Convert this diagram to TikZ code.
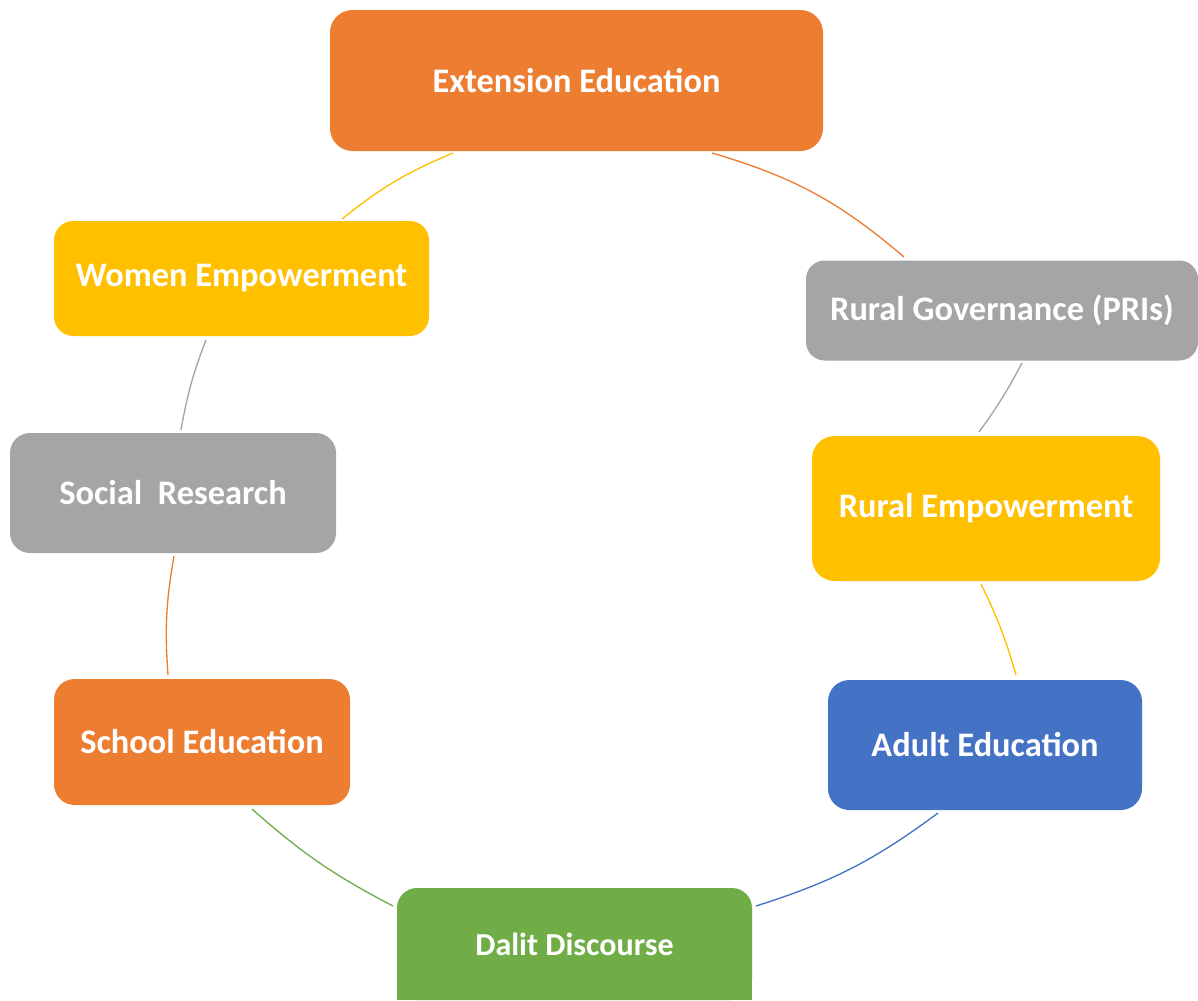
\documentclass[tikz,border=0pt]{standalone}
\usepackage{fontspec}
\setmainfont{Carlito}
\definecolor{cOrange}{HTML}{ED7D31}
\definecolor{cGray}{HTML}{A5A5A5}
\definecolor{cYellow}{HTML}{FFC000}
\definecolor{cBlue}{HTML}{4472C4}
\definecolor{cGreen}{HTML}{70AD47}
\tikzset{
  cbox/.style={draw=none, text=white, inner sep=0pt, align=center,
    font=\bfseries\fontsize{25.8}{30}\selectfont},
  link/.style={line width=1pt}
}
\begin{document}
\begin{tikzpicture}[x=0.75pt,y=-0.75pt]
\clip (0,0) rectangle (1198,1000);
\fill[white] (0,0) rectangle (1198,1000);
% nodes
\node[cbox, fill=cOrange, rounded corners=17pt, minimum width=369.75pt, minimum height=105.75pt] (ext) at (576.5,80.5) {Extension Education};
\node[cbox, fill=cGray, rounded corners=14pt, minimum width=294pt, minimum height=75pt] (rg) at (1002,310.5) {Rural Governance (PRIs)};
\node[cbox, fill=cYellow, rounded corners=17pt, minimum width=261pt, minimum height=108.75pt] (re) at (986,508.5) {Rural Empowerment};
\node[cbox, fill=cBlue, rounded corners=16pt, minimum width=235.5pt, minimum height=97.5pt] (ae) at (985,745) {Adult Education};
\fill[cGreen] (397,960) rectangle (752,1000);
\node[cbox, fill=cGreen, rounded corners=15pt, minimum width=266.25pt, minimum height=84pt, font=\bfseries\fontsize{24}{28}\selectfont] (dd) at (574.5,944) {Dalit Discourse};
\node[cbox, fill=cOrange, rounded corners=15.5pt, minimum width=222pt, minimum height=94.5pt] (se) at (202,742) {School Education};
\node[cbox, fill=cGray, rounded corners=15pt, minimum width=244.5pt, minimum height=90pt] (sr) at (173,493) {Social\ \ Research};
\node[cbox, fill=cYellow, rounded corners=14.5pt, minimum width=281.25pt, minimum height=86.25pt] (we) at (241.5,278.5) {Women Empowerment};
% arc end points
\coordinate (a1s) at (342,219); \coordinate (a1e) at (453,153);
\coordinate (a2s) at (712,153); \coordinate (a2e) at (904,257);
\coordinate (a3s) at (1022,363); \coordinate (a3e) at (979,432);
\coordinate (a4s) at (981,584); \coordinate (a4e) at (1016,675);
\coordinate (a5s) at (938,813); \coordinate (a5e) at (756,906);
\coordinate (a6s) at (393,906); \coordinate (a6e) at (252,809);
\coordinate (a7s) at (168,675); \coordinate (a7e) at (174,556);
\coordinate (a8s) at (181,430); \coordinate (a8e) at (206,340);
% connectors
\draw[link, cYellow] (a1s) to[bend left=8] (a1e);
\draw[link, cOrange] (a2s) to[bend left=12] (a2e);
\draw[link, cGray] (a3s) to[bend left=4] (a3e);
\draw[link, cYellow] (a4s) to[bend left=5] (a4e);
\draw[link, cBlue] (a5s) to[bend left=9.5] (a5e);
\draw[link, cGreen] (a6s) to[bend left=7] (a6e);
\draw[link, cOrange] (a7s) to[bend left=7] (a7e);
\draw[link, cGray] (a8s) to[bend left=5.5] (a8e);
\end{tikzpicture}
\end{document}
